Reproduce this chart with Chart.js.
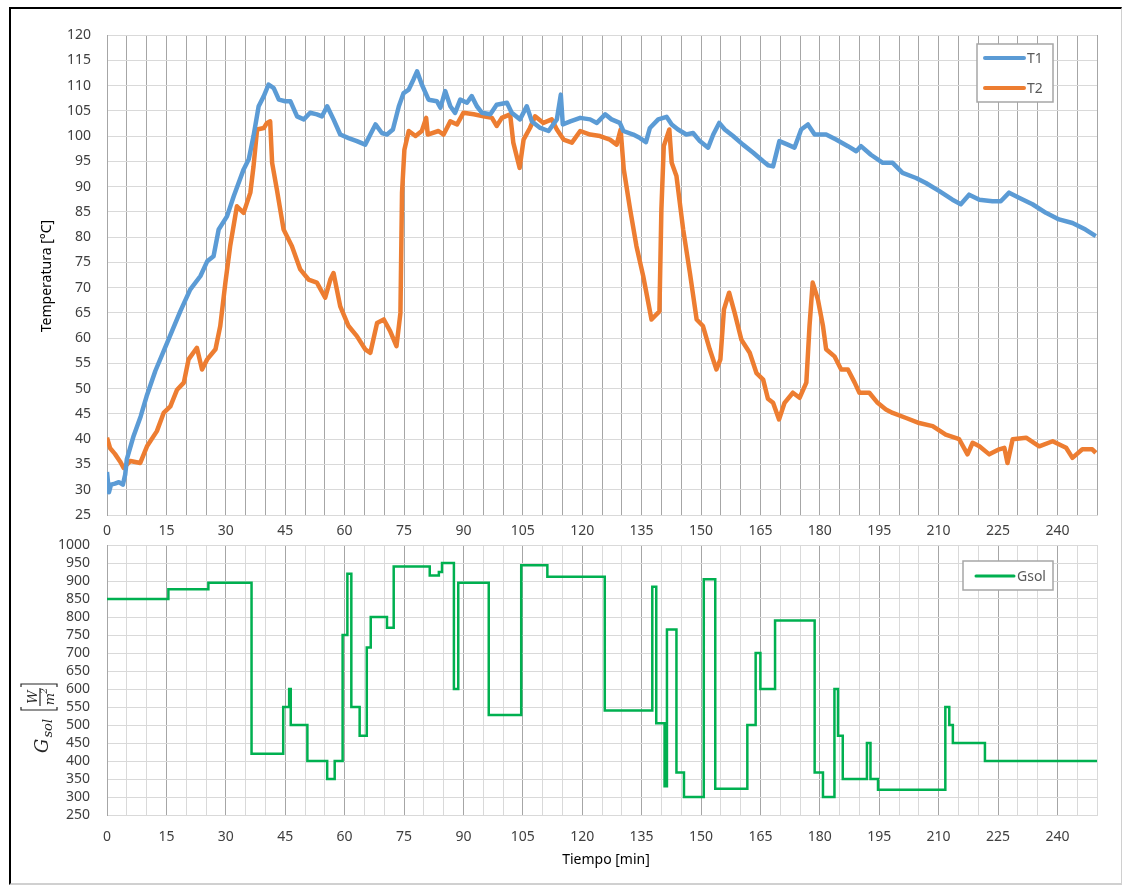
<!DOCTYPE html>
<html>
<head>
<meta charset="utf-8">
<script src="https://cdn.jsdelivr.net/npm/chart.js@4.4.1/dist/chart.umd.min.js"></script>
<style>
  body { margin: 0; background: #fff; }
  #frame { position: absolute; left: 9px; top: 7px; width: 1113px; height: 878px; box-sizing: border-box;
           border-left: 2px solid #000; border-top: 2px solid #000; border-right: 1px solid #d0d0d0; border-bottom: 2px solid #d0d0d0; }
  #top { position: absolute; left: 0; top: 0; }
  #bottom { position: absolute; left: 0; top: 510px; }
</style>
</head>
<body>
<div id="frame"></div>
<canvas id="top" width="1125" height="540"></canvas>
<canvas id="bottom" width="1125" height="378"></canvas>
<script>
// T1 / T2 temperatures (min, °C)
const t1Time = [0, 0.5, 1, 2, 3, 4, 4.6, 5, 6.7, 8.5, 10, 12.2, 15.2, 18.5, 21, 23.6, 25.3, 26.9, 28.2, 30.3, 32, 34.5, 35.8, 37, 38.3, 39.6, 40.8, 42.1, 43.4, 45, 46.3, 48, 49.7, 51.3, 53, 54.3, 55.6, 57.2, 58.9, 61, 63.1, 65.2, 66.5, 67.8, 69.4, 70.7, 72.2, 73.7, 74.9, 76.2, 77.4, 78.3, 79.5, 81.2, 83.3, 84.2, 85.4, 86.7, 87.9, 89.2, 90.9, 92.1, 93.4, 94.7, 96.8, 98.4, 101, 102.2, 104.3, 106, 107.3, 109.4, 111.5, 113.6, 114.6, 115.1, 117, 119.5, 122, 123.7, 125.8, 127.4, 129.5, 130.4, 132.9, 134.6, 136.1, 137.1, 139.2, 141.3, 142.6, 144.2, 146.3, 148, 149.7, 151.8, 153.1, 154.6, 156, 158.1, 160.6, 163.2, 165.7, 167, 168.2, 169.8, 171.9, 173.6, 175.3, 177, 178.7, 181.6, 184.1, 187.1, 189.2, 190.4, 192.9, 195.9, 198.4, 200.9, 204.3, 206.8, 210.2, 213.5, 215.6, 217.7, 220.3, 223.6, 225.7, 227.8, 230.3, 233.7, 237.1, 240.4, 243.8, 247.1, 249.7];
const t1Temp = [33.5, 29.5, 31, 31.2, 31.5, 31, 33, 36, 40.6, 44.5, 48.5, 53.5, 59.1, 65.3, 69.6, 72.3, 75.2, 76.2, 81.5, 84.1, 88.1, 93.4, 95.4, 100, 105.9, 107.9, 110.2, 109.5, 107.2, 106.9, 106.9, 103.9, 103.3, 104.6, 104.3, 103.9, 105.9, 103.3, 100.3, 99.6, 99, 98.3, 100.3, 102.3, 100.6, 100.3, 101.3, 105.9, 108.5, 109.2, 111.2, 112.8, 110.2, 107.2, 106.9, 105.6, 108.9, 105.9, 104.6, 107.2, 106.6, 107.9, 105.9, 104.6, 104.3, 106.2, 106.6, 104.6, 103.3, 105.9, 102.9, 101.6, 101, 103.3, 108.2, 102.3, 102.9, 103.6, 103.3, 102.6, 104.3, 103.3, 102.6, 101, 100.3, 99.6, 98.8, 101.6, 103.3, 103.8, 102.3, 101.3, 100.3, 100.6, 99, 97.7, 100.3, 102.6, 101.3, 100, 98.3, 96.7, 95, 94.2, 94, 99, 98.3, 97.7, 101.3, 102.3, 100.3, 100.3, 99.3, 98, 97, 98, 96.3, 94.7, 94.7, 92.7, 91.7, 90.7, 89.1, 87.4, 86.5, 88.4, 87.4, 87.1, 87.1, 88.8, 87.8, 86.5, 84.8, 83.5, 82.8, 81.5, 80.2];

const t2Time = [0, 0.8, 2, 3.3, 4.2, 5.9, 8.4, 10.1, 12.6, 14.3, 16, 17.7, 19.4, 20.6, 22.7, 24, 25.3, 27.4, 28.6, 29.9, 31.1, 32.8, 34.5, 36.2, 37, 37.9, 39.6, 40.4, 41.2, 41.7, 42.9, 44.6, 46.7, 48.8, 50.9, 53, 55.1, 56.4, 57.2, 58.9, 61, 63.1, 65.2, 66.5, 68.2, 69.9, 71.5, 73.1, 74.1, 74.5, 75.1, 76.2, 77.9, 79.5, 80.6, 81, 83.7, 85, 86.7, 88.4, 90, 92.6, 95.1, 97.2, 98.4, 99.7, 101.8, 102.6, 104.2, 105.2, 106.8, 108.1, 110.2, 112.3, 113.6, 115.3, 117.4, 119.5, 122, 124.5, 127, 128.7, 129.7, 130.5, 132.1, 133.7, 135.4, 137.5, 139.5, 140, 140.6, 142, 142.6, 143.8, 145.5, 147.2, 148.9, 150.5, 152.2, 153.9, 154.9, 155.8, 157.1, 158.5, 160.2, 162.3, 164, 165.7, 166.9, 168.2, 169.7, 171.1, 173.2, 174.9, 176.6, 177.4, 178.2, 179.5, 180.8, 181.6, 183.7, 185.4, 187.1, 188.8, 190, 192.5, 194.6, 196.7, 198.4, 201.8, 205.1, 208.5, 211.8, 215.2, 217.3, 218.6, 220.3, 222.8, 225.3, 226.6, 227.4, 228.7, 232.1, 235.4, 238.8, 242.2, 243.8, 246.3, 248.8, 249.7];
const t2Temp = [40.3, 38.2, 37.1, 35.6, 34.3, 35.7, 35.3, 38.6, 41.6, 45.2, 46.5, 49.8, 51.2, 55.8, 58.1, 53.8, 55.8, 57.8, 62.4, 71, 78.2, 86.1, 84.8, 88.8, 94, 101.3, 101.6, 102.6, 102.9, 94.7, 89.4, 81.5, 78.2, 73.6, 71.6, 71, 68, 71.6, 72.9, 66.3, 62.4, 60.4, 57.8, 57.1, 63, 63.7, 61.4, 58.4, 65, 88.8, 97.3, 101, 100, 101, 103.6, 100.3, 101, 100.3, 102.9, 102.3, 104.6, 104.3, 103.9, 103.6, 102, 103.6, 104.3, 98.7, 93.7, 99.3, 101.6, 103.9, 102.6, 103.3, 101.3, 99.3, 98.7, 101, 100.3, 100, 99.3, 98.3, 101.3, 93.4, 85.5, 78.2, 72.3, 63.7, 65.3, 85.5, 98, 101.3, 94.7, 92.1, 81.5, 72.9, 63.7, 62.4, 57.8, 53.8, 55.8, 65.7, 69, 65, 59.7, 57.1, 53.1, 51.8, 48, 47.2, 43.9, 47.2, 49.2, 48.2, 51.2, 62.4, 71, 67.7, 62.4, 57.8, 56.4, 53.8, 53.8, 51.2, 49.2, 49.2, 47.2, 45.9, 45.2, 44.2, 43.2, 42.6, 40.9, 40, 37, 39.3, 38.6, 37, 38, 38.3, 35.3, 40, 40.3, 38.6, 39.6, 38.3, 36.3, 38, 38, 37.3];

// Gsol steps (min, W/m2), value holds until next time
const gsolTime = [0, 15.5, 25.6, 36.5, 44.5, 46, 46.4, 50.6, 55.6, 57.5, 59.5, 60.7, 61.7, 63.8, 65.6, 66.6, 70.7, 72.4, 81.5, 83.8, 84.6, 87.6, 88.7, 96.4, 104.6, 111.2, 125.7, 137.7, 138.7, 140.8, 141.4, 143.8, 145.7, 150.7, 153.6, 161.7, 163.8, 165, 168.7, 178.7, 180.8, 183.7, 184.6, 185.8, 191.9, 192.8, 194.7, 211.7, 212.7, 213.6, 221.7, 250];
const gsolValue = [850, 877, 895, 420, 550, 600, 500, 400, 350, 400, 750, 920, 550, 470, 715, 800, 770, 940, 915, 925, 950, 600, 895, 528, 944, 912, 540, 884, 505, 330, 765, 368, 300, 905, 323, 500, 700, 600, 790, 368, 300, 600, 470, 350, 450, 350, 320, 550, 500, 450, 400, 400];

const xTicksEvery = 15;

const pts = (xs, ys) => xs.map((x, i) => ({ x: x, y: ys[i] }));

Chart.defaults.font.family = '"Noto Sans", sans-serif';
Chart.defaults.font.size = 14;
Chart.defaults.color = '#404040';

const txtFont = '14px "Noto Sans", sans-serif';

function xAxis(pad, h, gridColor) {
  return {
    type: 'linear', min: 0, max: 250,
    ticks: { stepSize: 5, autoSkip: false, maxRotation: 0, padding: pad,
             callback: v => (v % xTicksEvery === 0 ? String(v) : '') },
    grid: { color: gridColor, drawTicks: false },
    border: { color: '#d9d9d9' },
    afterFit: s => { s.height = h; }
  };
}

function yAxis(min, max, step, pad) {
  return {
    min: min, max: max,
    ticks: { stepSize: step, padding: pad, autoSkip: false, callback: v => String(v) },
    grid: { color: '#d9d9d9', drawTicks: false },
    border: { color: '#a6a6a6' },
    afterFit: s => { s.width = 107; }
  };
}

// legend box drawn inside the plot like the original
function legendBox(x, y, w, h, items) {
  return {
    id: 'legendBox',
    afterDraw(chart) {
      const c = chart.ctx;
      c.save();
      c.fillStyle = '#fff';
      c.fillRect(x, y, w, h);
      c.strokeStyle = '#a6a6a6';
      c.lineWidth = 1.5;
      c.strokeRect(x, y, w, h);
      c.font = txtFont;
      c.textBaseline = 'middle';
      items.forEach(it => {
        c.strokeStyle = it.color;
        c.lineWidth = it.width;
        c.lineCap = 'round';
        c.beginPath();
        c.moveTo(it.x0, it.y);
        c.lineTo(it.x1, it.y);
        c.stroke();
        c.fillStyle = '#595959';
        c.fillText(it.label, it.x1 + 3, it.y + 1);
      });
      c.restore();
    }
  };
}

const topTitle = {
  id: 'topTitle',
  afterDraw(chart) {
    const c = chart.ctx;
    c.save();
    c.translate(47, 276);
    c.rotate(-Math.PI / 2);
    c.font = txtFont;
    c.fillStyle = '#000';
    c.textAlign = 'center';
    c.textBaseline = 'middle';
    c.fillText('Temperatura [°C]', 0, 0);
    c.restore();
  }
};

// canvas starts at y=510
const bottomTitles = {
  id: 'bottomTitles',
  afterDraw(chart) {
    const c = chart.ctx;
    c.save();
    c.font = txtFont;
    c.fillStyle = '#000';
    c.textAlign = 'center';
    c.textBaseline = 'middle';
    c.fillText('Tiempo [min]', 606, 350);

    // G_sol [W/m²]
    c.translate(48, 243);
    c.rotate(-Math.PI / 2);
    c.textAlign = 'left';
    c.textBaseline = 'alphabetic';
    c.fillStyle = '#262626';
    c.strokeStyle = '#262626';
    c.font = 'italic 18px "DejaVu Serif", serif';
    c.fillText('G', 0, 0);
    const gw = c.measureText('G').width;
    c.font = 'italic 13px "DejaVu Serif", serif';
    c.fillText('sol', gw + 1, 4);
    c.lineWidth = 1.2;
    c.beginPath();
    c.moveTo(46, -27); c.lineTo(43, -27); c.lineTo(43, 9); c.lineTo(46, 9);
    c.moveTo(66, -27); c.lineTo(69, -27); c.lineTo(69, 9); c.lineTo(66, 9);
    c.moveTo(47, -8); c.lineTo(65, -8);
    c.stroke();
    c.textAlign = 'center';
    c.font = 'italic 13px "DejaVu Serif", serif';
    c.fillText('W', 56, -11);
    c.fillText('m', 54, 6);
    c.font = 'italic 9px "DejaVu Serif", serif';
    c.fillText('2', 62, -1);
    c.restore();
  }
};

new Chart(document.getElementById('top'), {
  type: 'line',
  data: {
    datasets: [
      { label: 'T1', data: pts(t1Time, t1Temp), borderColor: '#5b9bd5', borderWidth: 4.5, borderJoinStyle: 'round', pointRadius: 0 },
      { label: 'T2', data: pts(t2Time, t2Temp), borderColor: '#ed7d31', borderWidth: 4.5, borderJoinStyle: 'round', pointRadius: 0 }
    ]
  },
  options: {
    responsive: false,
    animation: false,
    layout: { padding: { left: 0, top: 35, right: 28, bottom: 0 } },
    plugins: { legend: { display: false }, tooltip: { enabled: false } },
    scales: {
      x: xAxis(8, 25, '#a6a6a6'),
      y: yAxis(25, 120, 5, 16)
    }
  },
  plugins: [topTitle, legendBox(977, 44, 76, 58, [
    { label: 'T1', color: '#5b9bd5', width: 4, x0: 985, x1: 1024, y: 58 },
    { label: 'T2', color: '#ed7d31', width: 4, x0: 985, x1: 1024, y: 88 }
  ])]
});

new Chart(document.getElementById('bottom'), {
  type: 'line',
  data: {
    datasets: [
      { label: 'Gsol', data: pts(gsolTime, gsolValue), borderColor: '#00b050', borderWidth: 2.5, pointRadius: 0, stepped: true }
    ]
  },
  options: {
    responsive: false,
    animation: false,
    layout: { padding: { left: 0, top: 35, right: 28, bottom: 0 } },
    plugins: { legend: { display: false }, tooltip: { enabled: false } },
    scales: {
      x: xAxis(14, 73, ctx => (ctx.tick && ctx.tick.value % 15 === 0 ? '#a6a6a6' : '#d9d9d9')),
      y: yAxis(250, 1000, 50, 17)
    }
  },
  plugins: [bottomTitles, legendBox(963, 51, 90, 29, [
    { label: 'Gsol', color: '#00b050', width: 3, x0: 976, x1: 1014, y: 66 }
  ])]
});
</script>
</body>
</html>
